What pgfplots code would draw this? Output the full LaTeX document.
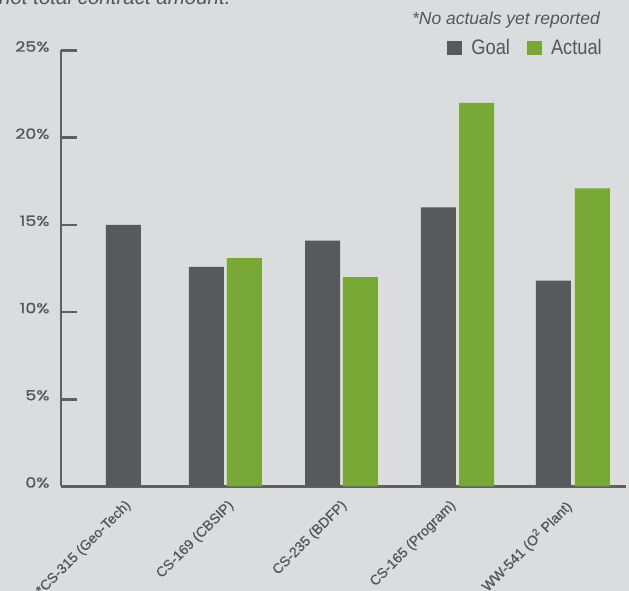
\documentclass[border=0pt]{standalone}
\usepackage{fontspec}
\setmainfont{Liberation Sans}
\newfontfamily\tickfont[FakeStretch=1.24, FakeBold=1.2]{Poppins}
\newfontfamily\catfont[FakeBold=0.6]{Liberation Sans}
\newfontfamily\legfont[FakeStretch=0.87]{Liberation Sans}
\usepackage{pgfplots}
\pgfplotsset{compat=1.18}
\definecolor{bg}{HTML}{DBDCDE}
\definecolor{goalc}{HTML}{58595B}
\definecolor{actc}{HTML}{78A936}
\definecolor{axc}{HTML}{5F6062}
\definecolor{txt}{HTML}{55565A}
\begin{document}
\begin{tikzpicture}[x=1pt,y=1pt]
\useasboundingbox (0,0) rectangle (629,591);
\fill[bg] (0,0) rectangle (629,591);
\begin{axis}[
  at={(61pt,104.5pt)}, anchor=south west,
  scale only axis, width=565pt, height=436pt,
  xmin=-0.4205, xmax=4.459, ymin=0, ymax=25,
  axis x line*=bottom, axis y line*=left,
  axis line style={draw=axc, line width=2.5pt, -},
  tick align=inside, major tick length=16pt,
  ytick={0,5,10,15,20,25},
  yticklabels={0\%,5\%,10\%,15\%,20\%,25\%},
  ytick style={draw=axc, line width=2.5pt},
  yticklabel style={font=\tickfont\fontsize{14}{14}\selectfont, text=txt, xshift=-8pt, yshift=4pt},
  xtick={0.124,1.013,1.989,2.930,3.924},
  xticklabels={*CS-315 (Geo-Tech), CS-169 (CBSIP), CS-235 (BDFP), CS-165 (Program), {WW-541 (O\textsuperscript{2} Plant)}},
  xtick style={draw=none},
  xticklabel shift=12pt,
  xticklabel style={rotate=45, anchor=north east, font=\catfont\fontsize{14}{14}\selectfont, text=txt, inner sep=0pt},
  legend columns=2,
  legend style={draw=none, fill=none, at={(rel axis cs:1,1)}, anchor=north east,
    font=\legfont\fontsize{21}{21}\selectfont, text=txt, inner sep=0pt,
    xshift=-22pt, yshift=13pt,
    /tikz/every odd column/.append style={column sep=7pt},
    /tikz/every even column/.append style={column sep=15pt}},
  legend image code/.code={\fill[#1] (0pt,-7pt) rectangle (15pt,7pt);},
]
\addplot[ybar, bar width=35pt, bar shift=0pt, fill=goalc, draw=none]
  coordinates {(0.119,15.0) (0.836,12.6) (1.838,14.1) (2.839,16.0) (3.832,11.8)};
\addplot[ybar, bar width=35pt, bar shift=0pt, fill=actc, draw=none]
  coordinates {(1.164,13.1) (2.166,12.0) (3.168,22.0) (4.169,17.1)};
\legend{Goal, Actual}
\end{axis}
\node[anchor=base east, inner sep=0pt, font=\itshape\fontsize{17.5}{18}\selectfont, text=txt] at (600,566) {*No actuals yet reported};
\node[anchor=base west, inner sep=0pt, font=\itshape\fontsize{20.5}{21}\selectfont, text=txt] at (-1,586.7) {not total contract amount.};
\end{tikzpicture}
\end{document}
